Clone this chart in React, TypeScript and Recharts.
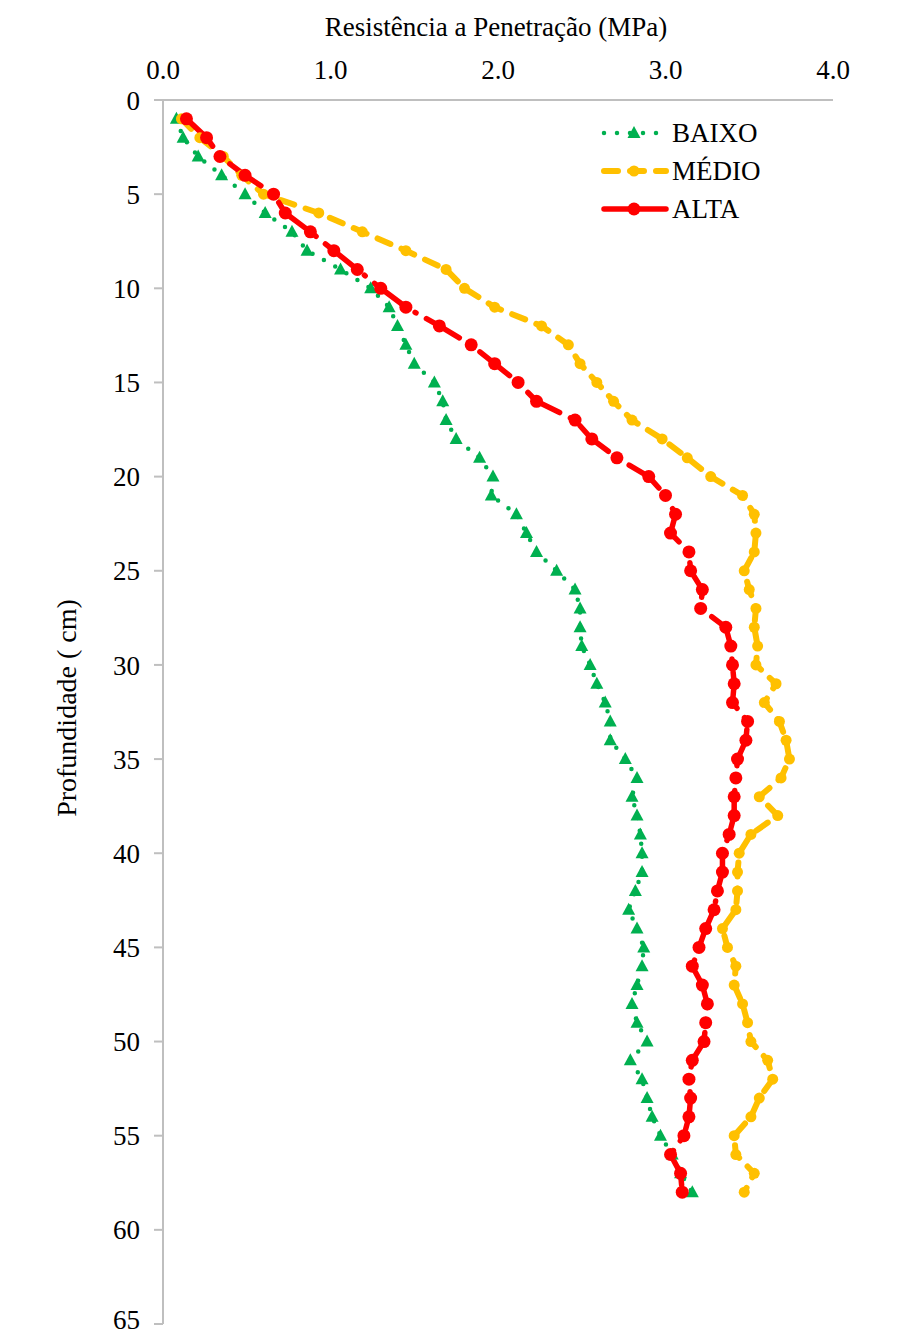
import React from "react";
import { LineChart, Line, XAxis, YAxis } from "recharts";

// profundidade (cm)
const depths = [
  1, 2, 3, 4, 5, 6, 7, 8, 9, 10, 11, 12, 13, 14, 15, 16, 17, 18, 19, 20,
  21, 22, 23, 24, 25, 26, 27, 28, 29, 30, 31, 32, 33, 34, 35, 36, 37, 38, 39, 40,
  41, 42, 43, 44, 45, 46, 47, 48, 49, 50, 51, 52, 53, 54, 55, 56, 57, 58,
];

// resistência (MPa)
const baixo = [
  0.08, 0.12, 0.21, 0.35, 0.49, 0.61, 0.77, 0.86, 1.06, 1.24,
  1.35, 1.4, 1.45, 1.5, 1.62, 1.67, 1.69, 1.75, 1.89, 1.97,
  1.96, 2.11, 2.17, 2.23, 2.35, 2.46, 2.49, 2.49, 2.5, 2.55,
  2.59, 2.64, 2.67, 2.67, 2.76, 2.83, 2.8, 2.83, 2.85, 2.86,
  2.86, 2.82, 2.78, 2.83, 2.87, 2.86, 2.83, 2.8, 2.83, 2.89,
  2.79, 2.86, 2.89, 2.92, 2.97, 3.04, 3.09, 3.16,
];

const medio = [
  0.11, 0.22, 0.36, 0.47, 0.6, 0.93, 1.19, 1.45, 1.69, 1.8,
  1.98, 2.26, 2.42, 2.49, 2.59, 2.69, 2.8, 2.98, 3.13, 3.27,
  3.46, 3.53, 3.54, 3.53, 3.47, 3.5, 3.54, 3.53, 3.55, 3.54,
  3.66, 3.59, 3.68, 3.72, 3.74, 3.69, 3.56, 3.67, 3.51, 3.44,
  3.43, 3.43, 3.42, 3.34, 3.37, 3.42, 3.41, 3.46, 3.49, 3.51,
  3.61, 3.64, 3.56, 3.51, 3.41, 3.42, 3.53, 3.47,
];

const alta = [
  0.14, 0.26, 0.34, 0.49, 0.66, 0.73, 0.88, 1.02, 1.16, 1.3,
  1.45, 1.65, 1.84, 1.98, 2.12, 2.23, 2.46, 2.56, 2.71, 2.9,
  3.0, 3.06, 3.03, 3.14, 3.15, 3.22, 3.21, 3.36, 3.39, 3.4,
  3.41, 3.4, 3.49, 3.48, 3.43, 3.42, 3.41, 3.41, 3.38, 3.34,
  3.34, 3.31, 3.29, 3.24, 3.2, 3.16, 3.22, 3.25, 3.24, 3.23,
  3.16, 3.14, 3.15, 3.14, 3.11, 3.03, 3.09, 3.1,
];

const xTicks = [0, 1, 2, 3, 4];
const yTicks = [0, 5, 10, 15, 20, 25, 30, 35, 40, 45, 50, 55, 60, 65];

const GREEN = "#00B050";
const YELLOW = "#FFC000";
const RED = "#FF0000";
const FONT = '"Liberation Serif", "Times New Roman", serif';

const rows = depths.map((d, i) => ({
  depth: d,
  baixo: baixo[i],
  medio: medio[i],
  alta: alta[i],
}));

const Triangle = (props: any) => {
  const { cx, cy, index } = props;
  if (cx == null || cy == null) return <g key={`t-${index}`} />;
  return (
    <polygon
      key={`t-${index}`}
      points={`${cx},${cy - 7} ${cx - 6.5},${cy + 5} ${cx + 6.5},${cy + 5}`}
      fill={GREEN}
    />
  );
};

const legendItems = [
  { label: "BAIXO", color: GREEN, dash: "0 13", width: 4.5, marker: "tri" },
  { label: "MÉDIO", color: YELLOW, dash: "14 12", width: 6, marker: "circle" },
  { label: "ALTA", color: RED, dash: undefined, width: 5.5, marker: "circle" },
];

// legend sits inside the plot, top right
const LegendBox = () => (
  <div
    style={{
      position: "absolute",
      top: 114,
      left: 600,
      fontFamily: FONT,
      fontSize: 27,
      color: "#000",
    }}
  >
    {legendItems.map((it) => (
      <div
        key={it.label}
        style={{ display: "flex", alignItems: "center", height: 38 }}
      >
        <svg width={70} height={20} style={{ marginRight: 2 }}>
          <line
            x1={4}
            x2={66}
            y1={10}
            y2={10}
            stroke={it.color}
            strokeWidth={it.width}
            strokeDasharray={it.dash}
            strokeLinecap="round"
          />
          {it.marker === "tri" ? (
            <polygon points="34,3 27.5,15 40.5,15" fill={it.color} />
          ) : (
            <circle cx={34} cy={10} r={it.label === "ALTA" ? 6.5 : 5.5} fill={it.color} />
          )}
        </svg>
        <span>{it.label}</span>
      </div>
    ))}
  </div>
);

export default function App() {
  return (
    <div
      style={{
        position: "absolute",
        left: 0,
        top: 0,
        width: 903,
        height: 1335,
        background: "#fff",
        fontFamily: FONT,
      }}
    >
      <div
        style={{
          position: "absolute",
          top: 12,
          left: 0,
          width: 992,
          textAlign: "center",
          fontSize: 27,
          color: "#000",
          whiteSpace: "nowrap",
        }}
      >
        Resistência a Penetração (MPa)
      </div>
      <div
        style={{
          position: "absolute",
          left: 67,
          top: 708,
          transform: "translate(-50%, -50%) rotate(-90deg)",
          fontSize: 28,
          color: "#000",
          whiteSpace: "nowrap",
        }}
      >
        Profundidade ( cm)
      </div>
      <LineChart
        width={903}
        height={1335}
        data={rows}
        layout="vertical"
        margin={{ top: 60, right: 70, bottom: 11, left: 63 }}
      >
        <XAxis
          type="number"
          orientation="top"
          domain={[0, 4]}
          ticks={xTicks}
          tickFormatter={(v) => Number(v).toFixed(1)}
          height={40}
          axisLine={{ stroke: "#bfbfbf", strokeWidth: 2 }}
          tickLine={false}
          tickSize={6}
          tickMargin={15}
          tick={{ fontSize: 27, fill: "#000", fontFamily: FONT }}
        />
        <YAxis
          type="number"
          dataKey="depth"
          domain={[0, 65]}
          ticks={yTicks}
          width={100}
          axisLine={{ stroke: "#bfbfbf", strokeWidth: 2 }}
          tickLine={{ stroke: "#bfbfbf", strokeWidth: 2 }}
          tickSize={9}
          tickMargin={14}
          tick={{ fontSize: 27, fill: "#000", fontFamily: FONT }}
        />
        <Line
          dataKey="baixo"
          name="BAIXO"
          stroke={GREEN}
          strokeWidth={4.5}
          strokeDasharray="0 13"
          strokeLinecap="round"
          dot={Triangle}
          activeDot={false}
          isAnimationActive={false}
        />
        <Line
          dataKey="medio"
          name="MÉDIO"
          stroke={YELLOW}
          strokeWidth={6}
          strokeDasharray="14 12"
          strokeLinecap="round"
          dot={{ r: 5.5, fill: YELLOW, stroke: "none" }}
          activeDot={false}
          isAnimationActive={false}
        />
        <Line
          dataKey="alta"
          name="ALTA"
          stroke={RED}
          strokeWidth={5.5}
          strokeDasharray="38 12 1 12"
          strokeLinecap="round"
          dot={{ r: 6.5, fill: RED, stroke: "none" }}
          activeDot={false}
          isAnimationActive={false}
        />
      </LineChart>
      <LegendBox />
    </div>
  );
}
